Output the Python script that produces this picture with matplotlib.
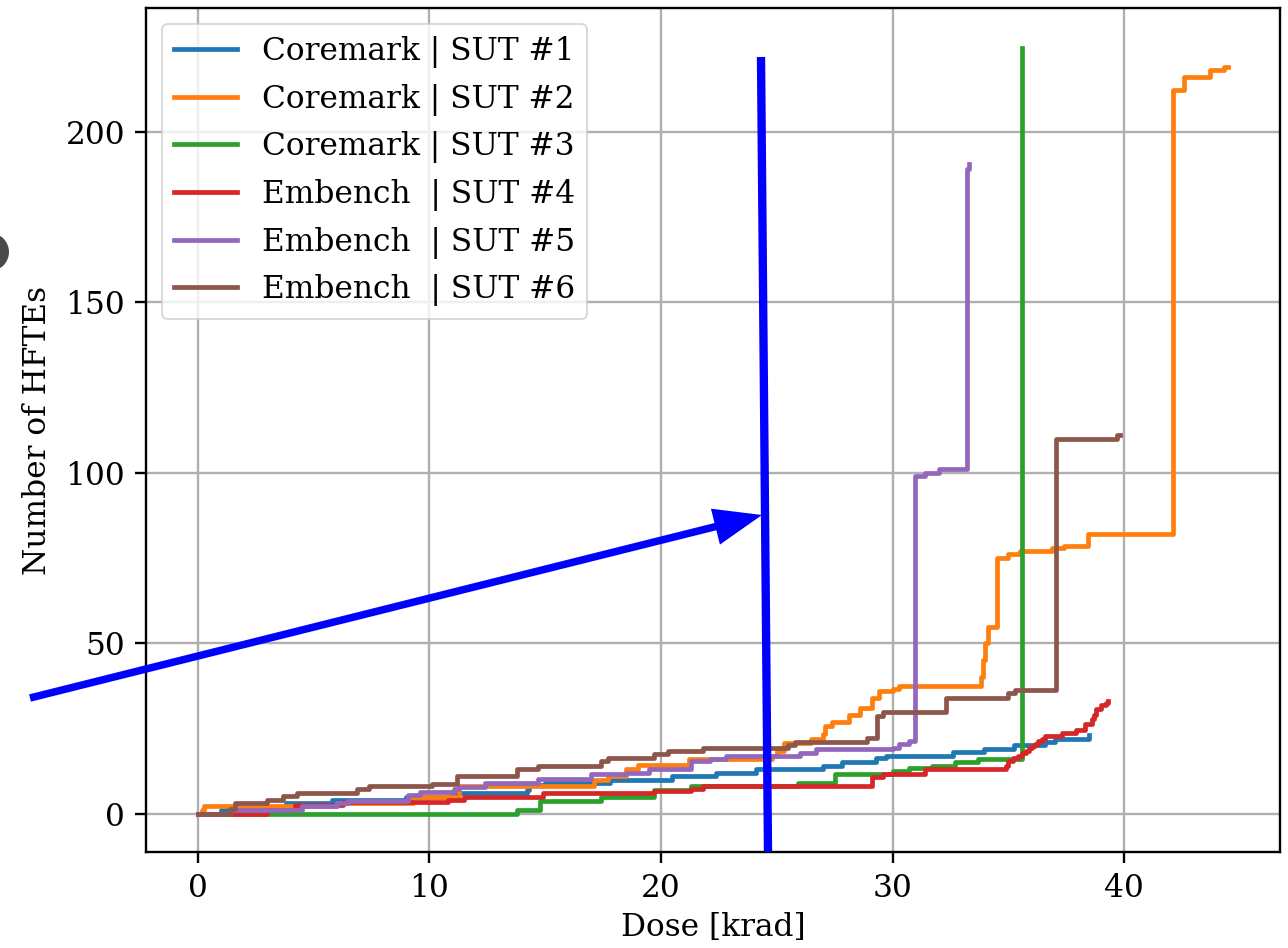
import matplotlib
matplotlib.use("Agg")
import matplotlib.pyplot as plt
import matplotlib.patches as mpatches
from matplotlib.lines import Line2D

plt.rcParams['font.family'] = ['DejaVu Serif']
plt.rcParams['font.size'] = 22.5

# ---------------- data (dose [krad] where the count steps up, count after step) ----------
labels = ["Coremark | SUT #1", "Coremark | SUT #2", "Coremark | SUT #3",
          "Embench  | SUT #4", "Embench  | SUT #5", "Embench  | SUT #6"]

sut1_x = [0, 1.0, 2.5, 3.8, 5.8, 9.0, 11.0, 14.2, 14.3, 15.0, 17.8, 20.5, 22.4, 24.1,
          27.0, 27.8, 29.3, 29.7, 32.6, 33.95, 35.25, 36.6, 37.0, 38.5]
sut1_y = [0, 1, 2, 3, 4, 5, 6, 7, 8.5, 9, 10, 11, 12, 13,
          14, 15, 16.4, 17, 18, 19, 20, 21, 22, 23]

sut2_x = [0, 0.2, 0.3, 6.0, 9.3, 11.3, 17.1, 17.7, 18.5, 19.0, 21.2, 24.8, 25.0, 25.3,
          26.5, 27.0, 27.1, 27.4, 28.1, 28.6, 29.1, 29.4, 30.0, 30.3, 33.8, 33.9, 34.0,
          34.1, 34.5, 35.0, 35.5, 36.9, 37.4, 38.45, 42.1, 42.6, 43.7, 44.3, 44.5]
sut2_y = [0, 1, 2.3, 3, 5, 8, 10, 11, 13, 14.3, 16, 17, 18.4, 20.8,
          22, 23.3, 25.6, 27, 29, 31, 34, 36, 36.5, 37.3, 40, 45, 50,
          54.6, 75, 76, 77, 78, 78.5, 82, 212.3, 216, 218, 219, 219]

sut3_x = [0, 13.8, 14.8, 17.4, 19.7, 21.3, 25.9, 27.5, 30.0, 30.7, 31.7, 32.7, 33.7, 35.6]
sut3_y = [0, 1, 3.8, 4.8, 7, 8, 9, 11.6, 12.5, 13.3, 14, 15, 16, 224.5]

sut4_x = [0, 3.0, 4.2, 6.3, 10.8, 11.5, 14.9, 19.7, 21.3, 21.8, 29.1, 29.6, 31.4, 34.9,
          35.0, 35.2, 35.4, 35.6, 35.75, 35.9, 36.03, 36.15, 36.3, 36.45, 36.6, 37.3,
          37.9, 38.3, 38.6, 38.7, 38.8, 39.0, 39.2, 39.3]
sut4_y = [0, 1, 2.5, 3.3, 4, 5, 6, 6.5, 7.2, 8, 10.8, 11.6, 13, 14,
          15.5, 16.2, 17, 17.8, 18.4, 19.2, 19.8, 20.5, 21.3, 22, 22.7, 23.7,
          24.6, 26.2, 27.7, 29, 30.6, 32, 32.5, 33]

sut5_x = [0, 1.4, 4.5, 6.0, 6.5, 9.1, 9.6, 11.06, 11.3, 12.4, 14.7, 17.0, 18.5, 19.5,
          21.3, 22.1, 22.8, 26.0, 26.7, 30.0, 30.3, 30.7, 30.95, 31.4, 32.0, 33.2, 33.3]
sut5_y = [0, 1, 2.3, 3, 3.8, 5.5, 6.2, 7.3, 7.7, 9.1, 10.2, 11.7, 12, 13,
          15.4, 16, 17, 17.9, 18.9, 19.3, 20.4, 21.3, 99, 100, 101, 189, 190.5]

sut6_x = [0, 1.4, 1.6, 3.0, 3.7, 4.3, 6.9, 7.4, 10.1, 11.2, 13.8, 14.7, 17.4, 17.7,
          19.7, 20.3, 21.8, 25.5, 25.8, 28.9, 29.35, 29.6, 32.3, 35.0, 35.3, 37.05,
          39.7, 39.8]
sut6_y = [0, 1.5, 3, 4, 5.2, 6, 7.3, 8.2, 8.7, 11, 13, 14, 15.5, 16.3,
          17.5, 18.4, 19.2, 20, 21, 22.2, 28.6, 29.7, 33.8, 35.3, 36.4, 110,
          111, 111]

series_x = [sut1_x, sut2_x, sut3_x, sut4_x, sut5_x, sut6_x]
series_y = [sut1_y, sut2_y, sut3_y, sut4_y, sut5_y, sut6_y]
colors = ['#1f77b4', '#ff7f0e', '#2ca02c', '#d62728', '#9467bd', '#8c564b']

x_ticks = [0, 10, 20, 30, 40]
y_ticks = [0, 50, 100, 150, 200]

# ---------------- figure ----------------
W, H = 1288, 948
fig = plt.figure(figsize=(W / 100, H / 100), dpi=100)
ax = fig.add_axes([146 / W, 1 - 852 / H, (1280 - 146) / W, (852 - 8) / H])

for xs, ys, c, lab in zip(series_x, series_y, colors, labels):
    ax.step(xs, ys, where='post', color=c, lw=3.4, label=lab)

ax.set_xlim(-2.225, 46.725)
ax.set_ylim(-11.25, 236.25)
ax.set_xticks(x_ticks)
ax.set_yticks(y_ticks)
ax.grid(True, color='#b0b0b0', lw=1.7)
ax.set_axisbelow(True)
for s in ax.spines.values():
    s.set_linewidth(1.7)
ax.tick_params(width=1.7, length=8, pad=7, labelsize=22.5)
ax.set_xlabel("Dose [krad]", fontsize=22.5, labelpad=6)
ax.set_ylabel("Number of HFTEs", fontsize=22.5, labelpad=9)
leg = ax.legend(loc='upper left', fontsize=22.5, framealpha=0.8,
                borderaxespad=0.5, handlelength=2.0)
leg.get_frame().set_linewidth(1.3)

# ---------------- overlay annotations (figure pixel coords) ----------------
T = fig.dpi_scale_trans
def px(x, y):
    return x / 100, (H - y) / 100

x0, y0 = px(761, 57)
x1, y1 = px(768, 852)
fig.add_artist(Line2D([x0, x1], [y0, y1], transform=T, color='#0000ff',
                      lw=6.0, solid_capstyle='butt'))

ax0, ay0 = px(30, 698)
ax1, ay1 = px(762, 515)
fig.add_artist(mpatches.FancyArrow(ax0, ay0, ax1 - ax0, ay1 - ay0, width=0.075,
                                   head_width=0.37, head_length=0.48,
                                   length_includes_head=True, transform=T,
                                   color='#0000ff', lw=0))

cx, cy = px(-10, 252)
fig.add_artist(mpatches.Circle((cx, cy), 0.19, transform=T, color='#4a4a4a', lw=0))

fig.savefig("out.png", dpi=100)
